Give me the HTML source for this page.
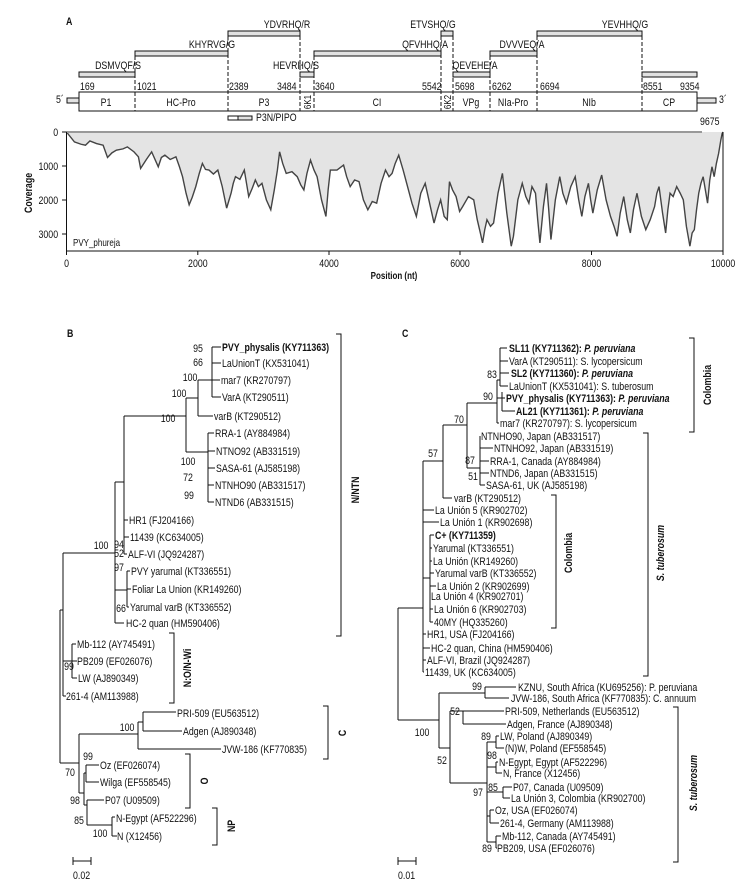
<!DOCTYPE html>
<html><head><meta charset="utf-8"><style>
html,body{margin:0;padding:0;background:#fff}
svg{display:block}
text{font-family:"Liberation Sans",sans-serif;font-size:11px;fill:#111}
.t{transform-box:fill-box;transform-origin:0% 50%;transform:scaleX(.8)}
.tm{text-anchor:middle;transform-box:fill-box;transform-origin:50% 50%;transform:scaleX(.8)}
.te{text-anchor:end;transform-box:fill-box;transform-origin:100% 50%;transform:scaleX(.8)}
.b{font-weight:bold}
.ln{fill:none;stroke:#111;stroke-width:1}
.ds{fill:none;stroke:#111;stroke-width:1;stroke-dasharray:4,2}
.bar{fill:#e2e2e2;stroke:#111;stroke-width:1}
</style></head><body>
<svg width="745" height="884" viewBox="0 0 745 884" xmlns="http://www.w3.org/2000/svg">
<!-- Panel A -->
<text x="66" y="25" class="t b">A</text>
<rect class="bar" x="228" y="31" width="72" height="5"/>
<rect class="bar" x="441" y="31" width="12" height="5"/>
<rect class="bar" x="537" y="31" width="105" height="5"/>
<rect class="bar" x="135" y="51" width="93" height="5"/>
<rect class="bar" x="314" y="51" width="127" height="5"/>
<rect class="bar" x="490" y="51" width="47" height="5"/>
<rect class="bar" x="79" y="72" width="56" height="5"/>
<rect class="bar" x="300" y="72" width="14" height="5"/>
<rect class="bar" x="453" y="72" width="37" height="5"/>
<rect class="bar" x="642" y="72" width="55" height="5"/>
<text x="287" y="28" class="tm">YDVRHQ/R</text>
<text x="433" y="28" class="tm">ETVSHQ/G</text>
<text x="625" y="28" class="tm">YEVHHQ/G</text>
<text x="212" y="48" class="tm">KHYRVG/G</text>
<text x="425" y="48" class="tm">QFVHHQ/A</text>
<text x="522" y="48" class="tm">DVVVEQ/A</text>
<text x="118" y="69" class="tm">DSMVQF/S</text>
<text x="296" y="69" class="tm">HEVRHQ/S</text>
<text x="475" y="69" class="tm">QEVEHE/A</text>
<path class="ds" d="M135 56V111M228 36V111M300 36V111M314 56V111M441 36V111M453 36V111M490 56V111M537 36V111M642 36V111"/>
<rect x="79" y="92" width="618" height="19" fill="none" stroke="#111"/>
<rect x="67" y="98" width="12" height="5" class="bar"/>
<rect x="697" y="98" width="19" height="5" class="bar"/>
<text x="56" y="103" class="t">5´</text>
<text x="719" y="103" class="t">3´</text>
<g>
<text x="80" y="90" class="t">169</text><text x="137" y="90" class="t">1021</text><text x="229" y="90" class="t">2389</text>
<text x="277" y="90" class="t">3484</text><text x="315" y="90" class="t">3640</text><text x="422" y="90" class="t">5542</text>
<text x="455" y="90" class="t">5698</text><text x="492" y="90" class="t">6262</text><text x="540" y="90" class="t">6694</text>
<text x="643" y="90" class="t">8551</text><text x="680" y="90" class="t">9354</text>
</g>
<text x="106" y="106" class="tm">P1</text><text x="181" y="106" class="tm">HC-Pro</text><text x="264" y="106" class="tm">P3</text>
<text x="377" y="106" class="tm">CI</text><text x="471" y="106" class="tm">VPg</text><text x="513" y="106" class="tm">NIa-Pro</text>
<text x="589" y="106" class="tm">NIb</text><text x="669" y="106" class="tm">CP</text>
<g transform="translate(307,102) rotate(-90)"><text x="0" y="4" class="tm" style="font-size:10px">6K1</text></g>
<g transform="translate(447,102) rotate(-90)"><text x="0" y="4" class="tm" style="font-size:10px">6K2</text></g>
<rect x="228" y="116" width="10" height="4" fill="#fff" stroke="#111"/>
<rect x="238" y="116" width="14" height="4" class="bar"/>
<text x="256" y="121" class="t">P3N/PIPO</text>
<text x="700" y="125" class="t">9675</text>

<!-- coverage -->
<g transform="translate(66.5,132) scale(0.4412,0.331) translate(-37,-35)">
<polygon fill="#e4e4e4" stroke="none" points="37,35 55,65 70,72 80,75 90,62 105,70 120,75 130,112 140,98 150,90 165,86 175,80 190,95 200,110 205,145 218,118 230,95 245,140 252,112 260,105 272,118 285,110 293,140 300,170 308,220 315,255 322,232 330,200 338,160 345,130 352,148 360,150 370,162 380,150 390,200 400,265 410,220 415,190 420,170 430,178 440,150 445,190 450,230 458,205 465,180 472,200 480,190 490,240 500,270 508,210 515,150 520,95 527,130 535,160 548,155 560,170 568,195 575,210 582,160 590,120 598,150 605,170 615,240 625,290 630,210 635,150 650,150 665,135 672,170 680,200 690,180 700,185 710,240 720,270 730,245 740,250 750,190 760,150 768,170 775,160 782,130 790,105 800,150 810,200 820,250 830,290 840,220 850,190 860,250 870,310 878,270 885,240 893,290 900,300 905,185 912,210 920,230 928,275 935,260 948,230 960,240 968,300 975,340 980,370 985,330 990,300 998,320 1005,310 1015,220 1025,160 1035,280 1045,380 1050,350 1060,240 1070,190 1078,230 1085,250 1092,200 1100,220 1105,300 1110,370 1118,260 1125,190 1130,270 1135,360 1145,240 1155,170 1162,220 1170,250 1180,200 1190,170 1198,240 1205,290 1212,230 1220,190 1225,240 1230,280 1240,210 1250,165 1260,240 1270,290 1278,320 1285,350 1292,280 1300,230 1308,300 1315,340 1322,270 1330,220 1340,290 1350,330 1360,300 1370,260 1375,220 1380,200 1388,280 1395,340 1400,270 1405,220 1412,230 1420,200 1428,220 1435,240 1442,320 1450,380 1455,340 1460,330 1465,270 1470,220 1475,190 1480,170 1485,210 1490,250 1495,180 1500,140 1505,170 1510,130 1515,100 1520,60 1523,40 1525,35"/>
<polyline fill="none" stroke="#444" stroke-width="1.4" vector-effect="non-scaling-stroke" points="37,35 55,65 70,72 80,75 90,62 105,70 120,75 130,112 140,98 150,90 165,86 175,80 190,95 200,110 205,145 218,118 230,95 245,140 252,112 260,105 272,118 285,110 293,140 300,170 308,220 315,255 322,232 330,200 338,160 345,130 352,148 360,150 370,162 380,150 390,200 400,265 410,220 415,190 420,170 430,178 440,150 445,190 450,230 458,205 465,180 472,200 480,190 490,240 500,270 508,210 515,150 520,95 527,130 535,160 548,155 560,170 568,195 575,210 582,160 590,120 598,150 605,170 615,240 625,290 630,210 635,150 650,150 665,135 672,170 680,200 690,180 700,185 710,240 720,270 730,245 740,250 750,190 760,150 768,170 775,160 782,130 790,105 800,150 810,200 820,250 830,290 840,220 850,190 860,250 870,310 878,270 885,240 893,290 900,300 905,185 912,210 920,230 928,275 935,260 948,230 960,240 968,300 975,340 980,370 985,330 990,300 998,320 1005,310 1015,220 1025,160 1035,280 1045,380 1050,350 1060,240 1070,190 1078,230 1085,250 1092,200 1100,220 1105,300 1110,370 1118,260 1125,190 1130,270 1135,360 1145,240 1155,170 1162,220 1170,250 1180,200 1190,170 1198,240 1205,290 1212,230 1220,190 1225,240 1230,280 1240,210 1250,165 1260,240 1270,290 1278,320 1285,350 1292,280 1300,230 1308,300 1315,340 1322,270 1330,220 1340,290 1350,330 1360,300 1370,260 1375,220 1380,200 1388,280 1395,340 1400,270 1405,220 1412,230 1420,200 1428,220 1435,240 1442,320 1450,380 1455,340 1460,330 1465,270 1470,220 1475,190 1480,170 1485,210 1490,250 1495,180 1500,140 1505,170 1510,130 1515,100 1520,60 1523,40 1525,35"/>
</g>
<line x1="66.5" y1="132" x2="702" y2="132" stroke="#999" stroke-width="2"/>
<path class="ln" d="M66.5 132V251H723V132M62 132H66.5M62 166H66.5M62 200H66.5M62 234H66.5M66.5 251V255M197.8 251V255M329 251V255M460 251V255M591.5 251V255M723 251V255"/>
<text x="58" y="136" class="te">0</text><text x="58" y="170" class="te">1000</text><text x="58" y="204" class="te">2000</text><text x="58" y="238" class="te">3000</text>
<g transform="translate(28,193) rotate(-90)"><text x="0" y="4" class="tm b">Coverage</text></g>
<text x="73" y="246" class="t" style="font-size:10px">PVY_phureja</text>
<text x="66.5" y="267" class="tm">0</text><text x="197.8" y="267" class="tm">2000</text><text x="329" y="267" class="tm">4000</text>
<text x="460" y="267" class="tm">6000</text><text x="591.5" y="267" class="tm">8000</text><text x="723" y="267" class="tm">10000</text>
<text x="394" y="279" class="tm b" style="font-size:10px">Position (nt)</text>

<!-- Panel B -->
<text x="67" y="337" class="t b">B</text>
<path class="ln" d="M60 610V763M60 610H63M60 763H79
M63 553V696M63 696H66M63 661H72M72 644V678M72 644H76M72 661H77M72 678H77
M63 553H115M115 482V623M115 623H124M115 482H124M124 416V554M124 520H128M124 537H129M124 554H127
M115 590H127M127 571V607M127 571H130M127 589H131M127 607H129
M124 416H186M186 398V452M186 398H198M198 380V416M198 416H213M198 380H212M212 347V397M212 347H221M212 363H221M212 380H220M212 397H221
M186 452H208M208 433V502M208 433H214M208 451H215M208 468H215M208 485H214M208 502H214
M79 734V793M79 734H138M138 722V749M138 749H221M138 722H143M143 712V731M143 712H176M143 731H182
M79 793H84M84 773V805M84 773H86M86 765V782M86 765H99M86 782H99M84 805H87M87 800V825M87 800H104M87 825H112M112 817V836M112 817H115M112 836H117
M73 861H91M73 857V865M91 857V865
M336 334H341V636H336M169 633H174V703H169M323 706H328V759H323M185 754H190V808H185M212 808H217V845H212"/>
<text x="222" y="351" class="t b">PVY_physalis (KY711363)</text>
<text x="222" y="367" class="t">LaUnionT (KX531041)</text>
<text x="221" y="384" class="t">mar7 (KR270797)</text>
<text x="222" y="401" class="t">VarA (KT290511)</text>
<text x="214" y="420" class="t">varB (KT290512)</text>
<text x="215" y="437" class="t">RRA-1 (AY884984)</text>
<text x="216" y="455" class="t">NTNO92 (AB331519)</text>
<text x="216" y="472" class="t">SASA-61 (AJ585198)</text>
<text x="215" y="489" class="t">NTNHO90 (AB331517)</text>
<text x="215" y="506" class="t">NTND6 (AB331515)</text>
<text x="129" y="524" class="t">HR1 (FJ204166)</text>
<text x="130" y="541" class="t">11439 (KC634005)</text>
<text x="128" y="558" class="t">ALF-VI (JQ924287)</text>
<text x="131" y="575" class="t">PVY yarumal (KT336551)</text>
<text x="132" y="593" class="t">Foliar La Union (KR149260)</text>
<text x="130" y="611" class="t">Yarumal varB (KT336552)</text>
<text x="126" y="627" class="t">HC-2 quan (HM590406)</text>
<text x="77" y="648" class="t">Mb-112 (AY745491)</text>
<text x="77" y="665" class="t">PB209 (EF026076)</text>
<text x="78" y="682" class="t">LW (AJ890349)</text>
<text x="66" y="700" class="t">261-4 (AM113988)</text>
<text x="177" y="717" class="t">PRI-509 (EU563512)</text>
<text x="183" y="735" class="t">Adgen (AJ890348)</text>
<text x="222" y="753" class="t">JVW-186 (KF770835)</text>
<text x="100" y="769" class="t">Oz (EF026074)</text>
<text x="100" y="786" class="t">Wilga (EF558545)</text>
<text x="105" y="804" class="t">P07 (U09509)</text>
<text x="116" y="822" class="t">N-Egypt (AF522296)</text>
<text x="117" y="840" class="t">N (X12456)</text>
<text x="73" y="879" class="t">0.02</text>
<g>
<text x="198" y="352" class="tm">95</text><text x="198" y="366" class="tm">66</text><text x="190" y="381" class="tm">100</text>
<text x="179" y="397" class="tm">100</text><text x="168" y="422" class="tm">100</text><text x="188" y="465" class="tm">100</text>
<text x="188" y="481" class="tm">72</text><text x="189" y="499" class="tm">99</text><text x="101" y="549" class="tm">100</text>
<text x="119" y="548" class="tm">94</text><text x="119" y="557" class="tm">52</text><text x="119" y="571" class="tm">97</text>
<text x="121" y="612" class="tm">66</text><text x="69" y="670" class="tm">99</text><text x="127" y="731" class="tm">100</text>
<text x="88" y="760" class="tm">99</text><text x="70" y="776" class="tm">70</text><text x="75" y="804" class="tm">98</text>
<text x="79" y="824" class="tm">85</text><text x="100" y="837" class="tm">100</text>
</g>
<g transform="translate(355,490) rotate(-90)"><text x="0" y="4" class="tm b">N/NTN</text></g>
<g transform="translate(187,668) rotate(-90)"><text x="0" y="4" class="tm b">N:O/N-Wi</text></g>
<g transform="translate(342,733) rotate(-90)"><text x="0" y="4" class="tm b">C</text></g>
<g transform="translate(204,781) rotate(-90)"><text x="0" y="4" class="tm b">O</text></g>
<g transform="translate(231,826) rotate(-90)"><text x="0" y="4" class="tm b">NP</text></g>

<!-- Panel C -->
<text x="402" y="337" class="t b">C</text>
<path class="ln" d="M398 608V720M398 608H423M398 720H439
M423 461V672M423 461H443M423 510H434M423 522H439M423 634H426M423 648H430M423 660H426M423 672H424
M423 578H430M430 535V622M430 535H434M430 548H432M430 561H432M430 573H434M430 586H436M430 596H430M430 609H433M430 622H433
M443 425V498M443 498H452M443 425H467M467 403V468M467 403H497M467 468H480M480 436V485M480 448H493M480 461H489M480 473H489M480 485H485
M497 380V423M497 423H499M497 380H500M500 348V386M500 348H507M500 361H508M500 373H509M500 386H508M497 398H502M502 392V411M502 398H505M502 411H515
M439 693V748M439 693H485M485 687V698M485 687H516M485 698H509
M439 748H450M450 711V783M450 711H463M463 711V724M463 711H504M463 724H506
M450 783H487M487 742V842M487 742H496M496 736V748M496 736H499M496 748H504M487 767H496M496 762V773M496 762H498M496 773H502
M487 792H503M503 787V798M503 787H512M503 798H510M487 816H490M490 810V823M490 810H494M490 823H499M487 842H496M496 836V848M496 836H501M496 848H497
M398 861H416M398 857V865M416 857V865
M689 338H694V432H689M643 433H648V676H643M551 495H556V628H551M673 707H678V862H673"/>
<g>
<text x="509" y="352" class="t b">SL11 (KY711362): <tspan font-style="italic">P. peruviana</tspan></text>
<text x="509" y="365" class="t">VarA (KT290511): S. lycopersicum</text>
<text x="511" y="377" class="t b">SL2 (KY711360): <tspan font-style="italic">P. peruviana</tspan></text>
<text x="509" y="390" class="t">LaUnionT (KX531041): S. tuberosum</text>
<text x="506" y="402" class="t b">PVY_physalis (KY711363):  <tspan font-style="italic">P. peruviana</tspan></text>
<text x="516" y="415" class="t b">AL21 (KY711361):  <tspan font-style="italic">P. peruviana</tspan></text>
<text x="500" y="427" class="t">mar7 (KR270797): S. lycopersicum</text>
<text x="481" y="440" class="t">NTNHO90, Japan (AB331517)</text>
<text x="494" y="452" class="t">NTNHO92, Japan (AB331519)</text>
<text x="490" y="465" class="t">RRA-1, Canada (AY884984)</text>
<text x="490" y="477" class="t">NTND6, Japan (AB331515)</text>
<text x="486" y="489" class="t">SASA-61, UK (AJ585198)</text>
<text x="454" y="502" class="t">varB (KT290512)</text>
<text x="435" y="514" class="t">La Unión 5 (KR902702)</text>
<text x="440" y="526" class="t">La Unión 1 (KR902698)</text>
<text x="435" y="539" class="t b">C+ (KY711359)</text>
<text x="433" y="552" class="t">Yarumal (KT336551)</text>
<text x="433" y="565" class="t">La Unión (KR149260)</text>
<text x="435" y="577" class="t">Yarumal varB (KT336552)</text>
<text x="437" y="590" class="t">La Unión 2 (KR902699)</text>
<text x="431" y="600" class="t">La Unión 4 (KR902701)</text>
<text x="434" y="613" class="t">La Unión 6 (KR902703)</text>
<text x="434" y="626" class="t">40MY (HQ335260)</text>
<text x="427" y="638" class="t">HR1, USA (FJ204166)</text>
<text x="431" y="652" class="t">HC-2 quan, China (HM590406)</text>
<text x="427" y="664" class="t">ALF-VI, Brazil (JQ924287)</text>
<text x="425" y="676" class="t">11439, UK (KC634005)</text>
<text x="518" y="691" class="t">KZNU, South Africa (KU695256):  P. peruviana</text>
<text x="511" y="702" class="t">JVW-186, South Africa (KF770835): C. annuum</text>
<text x="505" y="715" class="t">PRI-509, Netherlands (EU563512)</text>
<text x="507" y="728" class="t">Adgen, France (AJ890348)</text>
<text x="500" y="740" class="t">LW, Poland (AJ890349)</text>
<text x="505" y="752" class="t">(N)W, Poland (EF558545)</text>
<text x="499" y="766" class="t">N-Egypt, Egypt (AF522296)</text>
<text x="503" y="777" class="t">N, France (X12456)</text>
<text x="513" y="791" class="t">P07, Canada (U09509)</text>
<text x="511" y="802" class="t">La Unión 3, Colombia (KR902700)</text>
<text x="495" y="814" class="t">Oz, USA (EF026074)</text>
<text x="500" y="827" class="t">261-4, Germany (AM113988)</text>
<text x="502" y="840" class="t">Mb-112, Canada (AY745491)</text>
<text x="497" y="852" class="t">PB209, USA (EF026076)</text>
<text x="398" y="879" class="t">0.01</text>
</g>
<g>
<text x="492" y="378" class="tm">83</text><text x="488" y="400" class="tm">90</text><text x="459" y="423" class="tm">70</text>
<text x="433" y="457" class="tm">57</text><text x="470" y="464" class="tm">87</text><text x="473" y="480" class="tm">51</text>
<text x="477" y="690" class="tm">99</text><text x="422" y="736" class="tm">100</text><text x="455" y="715" class="tm">52</text>
<text x="442" y="764" class="tm">52</text><text x="486" y="740" class="tm">89</text><text x="492" y="759" class="tm">98</text>
<text x="478" y="796" class="tm">97</text><text x="493" y="791" class="tm">85</text><text x="487" y="852" class="tm">89</text>
</g>
<g transform="translate(707,385) rotate(-90)"><text x="0" y="4" class="tm b">Colombia</text></g>
<g transform="translate(568,553) rotate(-90)"><text x="0" y="4" class="tm b">Colombia</text></g>
<g transform="translate(660,553) rotate(-90)"><text x="0" y="4" class="tm b" font-style="italic">S. tuberosum</text></g>
<g transform="translate(693,783) rotate(-90)"><text x="0" y="4" class="tm b" font-style="italic">S. tuberosum</text></g>
</svg>
</body></html>
